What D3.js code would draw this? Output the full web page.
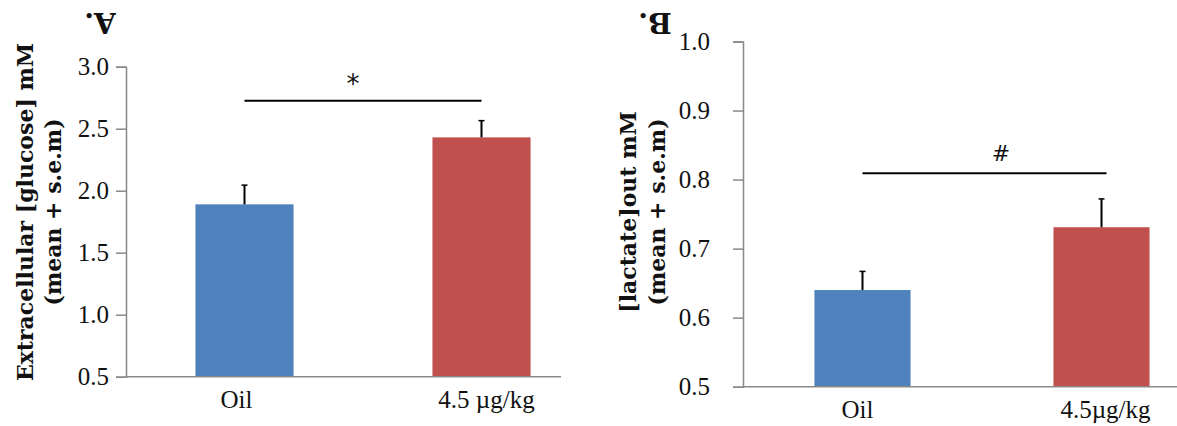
<!DOCTYPE html>
<html>
<head>
<meta charset="utf-8">
<script src="https://cdn.jsdelivr.net/npm/d3@7"></script>
<style>
  html, body { margin: 0; padding: 0; background: #fff; }
  svg { display: block; }
</style>
</head>
<body>
<svg id="chart" width="1177" height="426"></svg>
<script>
// ---- data ----
const categories = ["Oil", "4.5 µg/kg"];
const categoriesB = ["Oil", "4.5µg/kg"];
const glucoseMean = [1.89, 2.43];
const glucoseSem = [0.155, 0.135];
const lactateMean = [0.64, 0.731];
const lactateSem = [0.027, 0.041];
const glucoseTicks = [0.5, 1.0, 1.5, 2.0, 2.5, 3.0];
const lactateTicks = [0.5, 0.6, 0.7, 0.8, 0.9, 1.0];
const glucoseSig = { level: 2.726, mark: "*" };
const lactateSig = { level: 0.809, mark: "#" };
const barColors = ["#4F81BD", "#C0504D"];

const svg = d3.select("#chart");
const serif = "'DejaVu Serif', 'Liberation Serif', serif";
const tickFont = "'Liberation Serif', 'Times New Roman', serif";
const axisGray = "#898989";
const tickSize = 25;
const titleSize = 22;

function panel(opts) {
  const g = svg.append("g");
  if (opts.clipRight) {
    const id = "clip" + opts.letter;
    svg.append("clipPath").attr("id", id).append("rect")
      .attr("x", 0).attr("y", 0).attr("width", opts.clipRight).attr("height", 426);
    g.attr("clip-path", `url(#${id})`);
  }
  const x = d3.scaleBand().domain(opts.cats).range(opts.xRange).paddingInner(opts.pad).paddingOuter(opts.pad / 2);
  const y = d3.scaleLinear().domain([opts.ticks[0], opts.ticks[opts.ticks.length - 1]]).range(opts.yRange);

  // bars
  g.selectAll("rect.bar").data(opts.means).join("rect")
    .attr("class", "bar")
    .attr("x", (d, i) => x(opts.cats[i]))
    .attr("width", x.bandwidth())
    .attr("y", d => y(d))
    .attr("height", d => y(opts.ticks[0]) - y(d))
    .attr("fill", (d, i) => barColors[i]);

  // error bars
  const eb = g.selectAll("g.err").data(opts.means).join("g").attr("class", "err");
  eb.append("line")
    .attr("x1", (d, i) => x(opts.cats[i]) + x.bandwidth() / 2)
    .attr("x2", (d, i) => x(opts.cats[i]) + x.bandwidth() / 2)
    .attr("y1", d => y(d))
    .attr("y2", (d, i) => y(d + opts.sems[i]))
    .attr("stroke", "#000").attr("stroke-width", 2);
  eb.append("line")
    .attr("x1", (d, i) => x(opts.cats[i]) + x.bandwidth() / 2 - 3)
    .attr("x2", (d, i) => x(opts.cats[i]) + x.bandwidth() / 2 + 3)
    .attr("y1", (d, i) => y(d + opts.sems[i]))
    .attr("y2", (d, i) => y(d + opts.sems[i]))
    .attr("stroke", "#000").attr("stroke-width", 1.5);

  // y axis
  const ya = g.append("g").attr("transform", `translate(${opts.xRange[0]},0)`)
    .call(d3.axisLeft(y).tickValues(opts.ticks).tickFormat(d3.format(".1f")).tickSize(10).tickPadding(opts.tickPad));
  ya.attr("font-size", null).attr("font-family", null);
  ya.select(".domain").attr("stroke", axisGray).attr("stroke-width", 1.5);
  ya.selectAll(".tick line").attr("stroke", axisGray).attr("stroke-width", 1.5);
  ya.selectAll(".tick text").style("font-family", tickFont).style("font-size", tickSize + "px").attr("fill", "#111");

  // x axis
  const xa = g.append("g").attr("transform", `translate(0,${y(opts.ticks[0])})`)
    .call(d3.axisBottom(x).tickSize(0).tickPadding(opts.xLabPad));
  xa.attr("font-size", null).attr("font-family", null);
  xa.select(".domain").attr("stroke", axisGray).attr("stroke-width", 1.5)
    .attr("d", `M${opts.xRange[0]},0H${opts.xRange[1]}`);
  xa.selectAll(".tick text").style("font-family", tickFont).style("font-size", tickSize + "px").attr("fill", "#111")
    .attr("dx", (d, i) => opts.labShift[i]);

  // significance
  const cx0 = x(opts.cats[0]) + x.bandwidth() / 2;
  const cx1 = x(opts.cats[1]) + x.bandwidth() / 2;
  g.append("line")
    .attr("x1", cx0).attr("x2", cx1 + opts.sigExtend)
    .attr("y1", y(opts.sig.level)).attr("y2", y(opts.sig.level))
    .attr("stroke", "#000").attr("stroke-width", 2);
  g.append("text")
    .attr("x", (cx0 + cx1) / 2 + opts.markShift)
    .attr("y", y(opts.sig.level) - opts.markUp)
    .attr("text-anchor", "middle")
    .style("font-family", "'DejaVu Sans', sans-serif")
    .style("font-size", opts.markSize + "px")
    .attr("fill", "#111")
    .text(opts.sig.mark);

  // y title
  const tg = svg.append("g")
    .attr("transform", `translate(${opts.titleX},${opts.titleY}) rotate(-90)`);
  tg.append("text").attr("text-anchor", "middle").attr("y", 0)
    .style("font-family", serif).style("font-weight", "bold").style("font-size", titleSize + "px")
    .attr("fill", "#111").text(opts.title[0]);
  tg.append("text").attr("text-anchor", "middle").attr("y", opts.titleGap)
    .style("font-family", serif).style("font-weight", "bold").style("font-size", titleSize + "px")
    .attr("fill", "#111").text(opts.title[1]);

  // panel letter (upside-down)
  svg.append("text")
    .attr("transform", `translate(${opts.letterX},${opts.letterY}) rotate(180)`)
    .attr("text-anchor", "middle")
    .attr("dominant-baseline", "central")
    .style("font-family", serif).style("font-weight", "bold").style("font-size", "28px")
    .attr("fill", "#111")
    .text(opts.letter + ".");
}

panel({
  letter: "A",
  cats: categories, means: glucoseMean, sems: glucoseSem, ticks: glucoseTicks, sig: glucoseSig,
  xRange: [126, 600], yRange: [376.7, 66.7], pad: 0.586, clipRight: 561,
  tickPad: 7, xLabPad: 14, labShift: [-8, 5], sigExtend: 0, markShift: -10, markUp: 8, markSize: 26,
  title: ["Extracellular [glucose] mM", "(mean + s.e.m)"], titleX: 33, titleY: 212, titleGap: 28,
  letterX: 100, letterY: 22
});

panel({
  letter: "B",
  cats: categoriesB, means: lactateMean, sems: lactateSem, ticks: lactateTicks, sig: lactateSig,
  xRange: [743, 1221], yRange: [386.7, 41.5], pad: 0.598, clipRight: null,
  tickPad: 23, xLabPad: 14, labShift: [-5, 4], sigExtend: 5, markShift: 19, markUp: 12, markSize: 22,
  title: ["[lactate]out mM", "(mean + s.e.m)"], titleX: 636, titleY: 212, titleGap: 29,
  letterX: 655, letterY: 22
});
</script>
</body>
</html>
